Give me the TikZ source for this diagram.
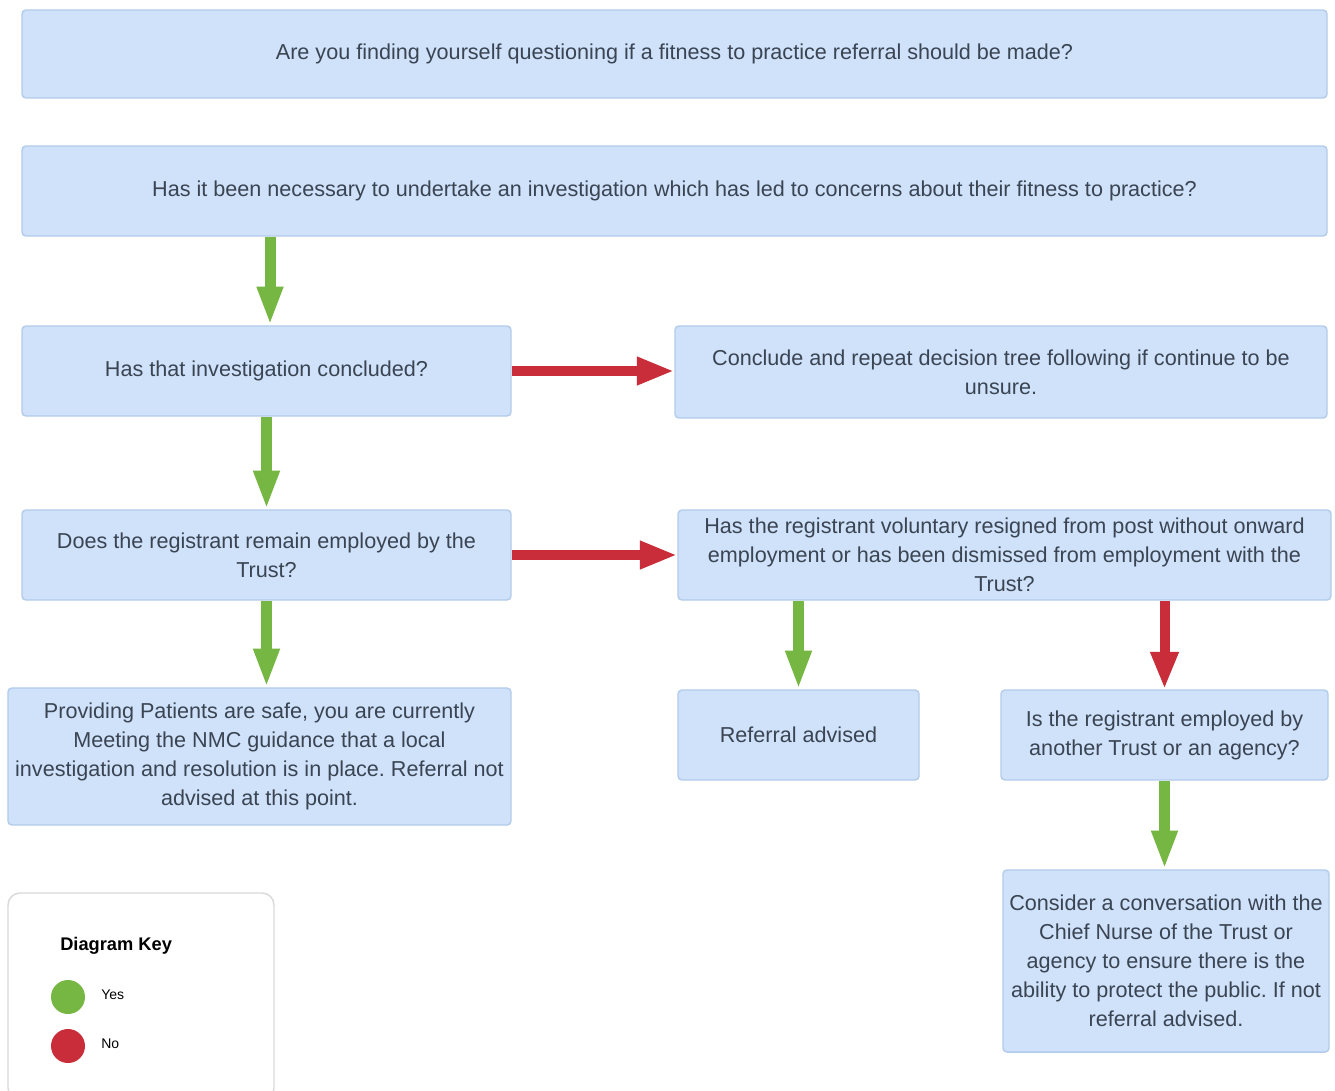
\documentclass[tikz,border=0pt]{standalone}
\usepackage{fontspec}
\setmainfont{Liberation Sans}
\usetikzlibrary{arrows.meta}
\frenchspacing
\definecolor{boxfill}{HTML}{CFE2FA}
\definecolor{boxline}{HTML}{B3CCEB}
\definecolor{txt}{HTML}{3A4452}
\definecolor{yesgreen}{HTML}{76B743}
\definecolor{nored}{HTML}{C92D39}
\definecolor{keyline}{HTML}{DADADA}
\tikzset{
  flowbox/.style={draw=boxline, line width=1.1pt, fill=boxfill, rounded corners=3pt,
    align=center, text=txt, inner sep=2pt,
    font=\fontsize{16.2pt}{21.75pt}\selectfont},
  yesarrow/.style={draw=yesgreen, line width=8.25pt, -{Triangle[length=29pt,width=18pt]}},
  noarrow/.style={draw=nored, line width=7.5pt, -{Triangle[length=28pt,width=19.5pt]}},
  keycircle/.style={circle, inner sep=0pt, minimum size=25.5pt},
  keytext/.style={anchor=west, text=black, font=\fontsize{10.5pt}{12pt}\selectfont, inner sep=0pt}
}
\begin{document}
\begin{tikzpicture}[x=0.75pt,y=-0.75pt]
\useasboundingbox (0,0) rectangle (1335,1090);
\clip (0,0) rectangle (1335,1090);
\fill[white] (0,0) rectangle (1335,1090);

\node[flowbox, minimum width=978.75pt, minimum height=66pt] (b1) at (674.5,54)
  {Are you finding yourself questioning if a fitness to practice referral should be made?};
\node[flowbox, minimum width=978.75pt, minimum height=67.5pt] (b2) at (674.5,191)
  {Has it been necessary to undertake an investigation which has led to concerns about their fitness to practice?};
\node[flowbox, minimum width=366.75pt, minimum height=67.5pt] (b3) at (266.5,371)
  {Has that investigation concluded?};
\node[flowbox, minimum width=489pt, minimum height=69pt] (b4) at (1001,372)
  {Conclude and repeat decision tree following if continue to be\\unsure.};
\node[flowbox, minimum width=366.75pt, minimum height=67.5pt] (b5) at (266.5,555)
  {Does the registrant remain employed by the\\Trust?};
\node[flowbox, minimum width=489.75pt, minimum height=67.5pt] (b6) at (1004.5,555)
  {Has the registrant voluntary resigned from post without onward\\employment or has been dismissed from employment with the\\Trust?};
\node[flowbox, minimum width=377.25pt, minimum height=102.75pt] (b7) at (259.5,756.5)
  {Providing Patients are safe, you are currently\\Meeting the NMC guidance that a local\\investigation and resolution is in place. Referral not\\advised at this point.};
\node[flowbox, minimum width=180.75pt, minimum height=67.5pt] (b8) at (798.5,735)
  {Referral advised};
\node[flowbox, minimum width=245.25pt, minimum height=67.5pt] (b9) at (1164.5,735)
  {Is the registrant employed by\\another Trust or an agency?};
\node[flowbox, minimum width=244.5pt, minimum height=136.5pt] (b10) at (1166,961)
  {Consider a conversation with the\\Chief Nurse of the Trust or\\agency to ensure there is the\\ability to protect the public. If not\\referral advised.};

\coordinate (ax1) at (270,0);
\draw[yesarrow] (b2.south -| ax1) -- (b3.north -| ax1);
\draw[yesarrow] (b3.south) -- (b5.north);
\draw[noarrow] (b3.east) -- (b3.east -| b4.west);
\draw[yesarrow] (b5.south) -- (b5.south |- b7.north);
\draw[noarrow] (b5.east) -- (b5.east -| b6.west);
\draw[yesarrow] (b8.north |- b6.south) -- (b8.north);
\draw[noarrow] (b9.north |- b6.south) -- (b9.north);
\draw[yesarrow] (b9.south) -- (b9.south |- b10.north);

% key
\node[draw=keyline, line width=1.1pt, fill=white, rounded corners=9pt,
  minimum width=199.5pt, minimum height=155.25pt, inner sep=0pt] (key) at (141,996.5) {};
\node[anchor=west, inner sep=0pt, text=black, font=\bfseries\fontsize{13.7pt}{16pt}\selectfont]
  (keytitle) at (60,946) {Diagram Key};
\node[keycircle, fill=yesgreen] (cyes) at (68,997) {};
\node[keytext] (tyes) at (101,995) {Yes};
\node[keycircle, fill=nored] (cno) at (68,1046) {};
\node[keytext] (tno) at (101,1044) {No};
\end{tikzpicture}
\end{document}
